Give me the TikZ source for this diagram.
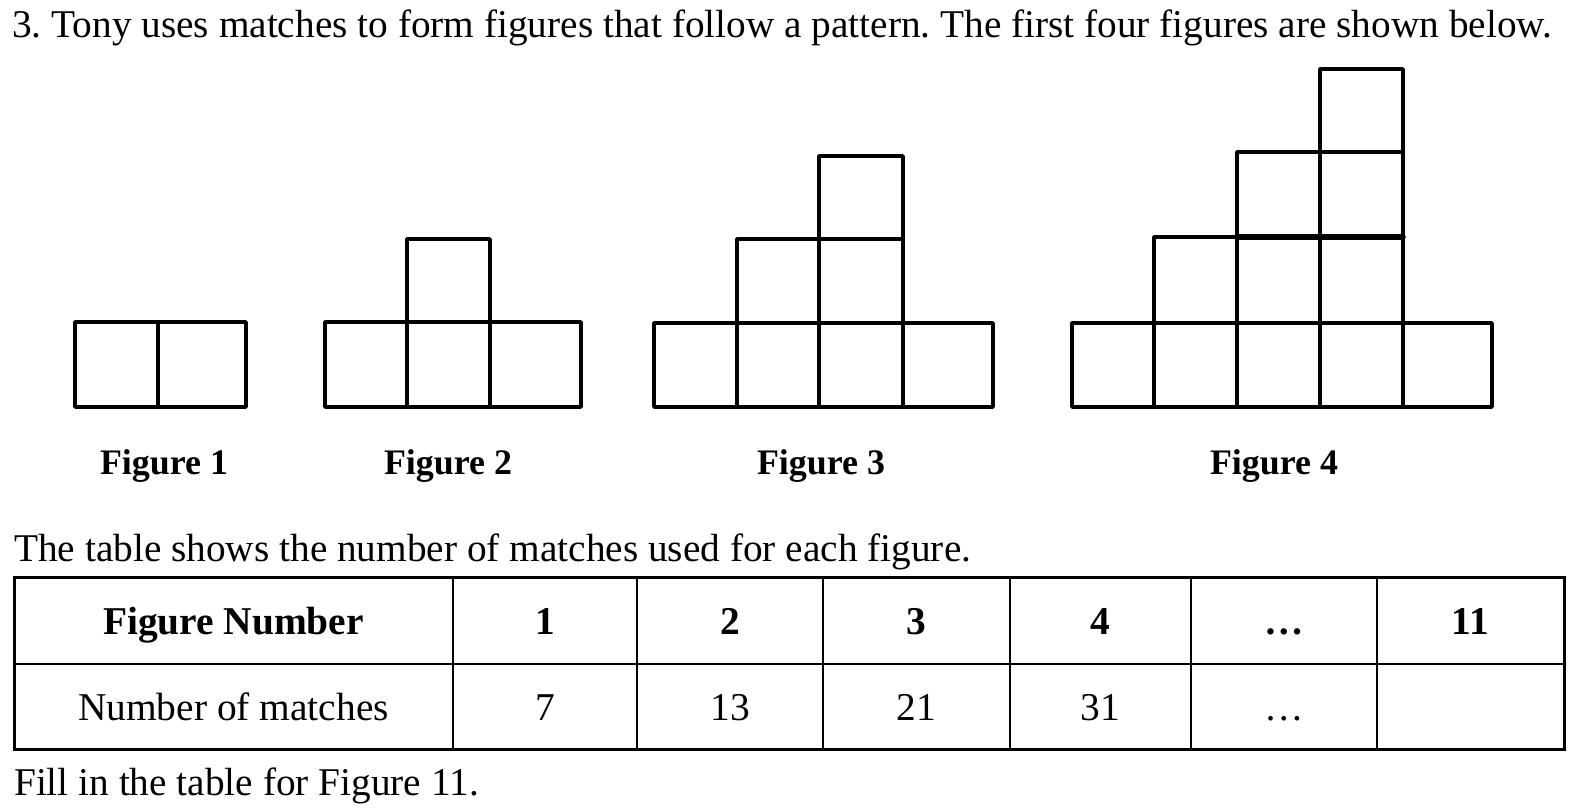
\documentclass[tikz,border=0pt]{standalone}
\usepackage{fontspec}
\setmainfont{Liberation Serif}
\frenchspacing
\begin{document}
\begin{tikzpicture}[x=1pt,y=-1pt,
  match/.style={line width=3.5pt,line join=round,line cap=round},
  thickmatch/.style={line width=5.5pt,line cap=round},
  body/.style={inner sep=0pt,font=\fontsize{39.3}{44}\selectfont},
  figlabel/.style={inner sep=0pt,anchor=base,font=\fontsize{35.9}{40}\selectfont\bfseries},
  cell/.style={inner sep=0pt,anchor=base,font=\fontsize{39.4}{44}\selectfont},
  bcell/.style={cell,font=\fontsize{39.4}{44}\selectfont\bfseries},
  tline/.style={line width=2pt},
  tout/.style={line width=3pt}]
\useasboundingbox (0,0) rectangle (1587,811);
\fill[white] (0,0) rectangle (1587,811);
% title
\node[body,anchor=base west] (title) at (12,37) {3. Tony uses matches to form figures that follow a pattern. The first four figures are shown below.};
% Figure 1
\draw[match] (75,322) rectangle (158,407);
\draw[match] (158,322) rectangle (246,407);
% Figure 2
\draw[match] (325,322) rectangle (407,407);
\draw[match] (407,322) rectangle (490,407);
\draw[match] (490,322) rectangle (581,407);
\draw[match] (407,239) rectangle (490,322);
% Figure 3
\draw[match] (654,323) rectangle (737,407);
\draw[match] (737,323) rectangle (819,407);
\draw[match] (819,323) rectangle (903,407);
\draw[match] (903,323) rectangle (993,407);
\draw[match] (737,239) rectangle (819,323);
\draw[match] (819,239) rectangle (903,323);
\draw[match] (819,156) rectangle (903,239);
% Figure 4
\draw[match] (1072,323) rectangle (1154,407);
\draw[match] (1154,323) rectangle (1237,407);
\draw[match] (1237,323) rectangle (1320,407);
\draw[match] (1320,323) rectangle (1403,407);
\draw[match] (1403,323) rectangle (1492,407);
\draw[match] (1154,237) rectangle (1237,323);
\draw[match] (1237,237) rectangle (1320,323);
\draw[match] (1320,237) rectangle (1403,323);
\draw[match] (1237,152) rectangle (1320,237);
\draw[match] (1320,152) rectangle (1403,237);
\draw[match] (1320,69) rectangle (1403,152);
\draw[thickmatch] (1237,237) -- (1403,237);
% labels
\node[figlabel] (f1) at (164,474) {Figure 1};
\node[figlabel] (f2) at (448,474) {Figure 2};
\node[figlabel] (f3) at (821,474) {Figure 3};
\node[figlabel] (f4) at (1274,474) {Figure 4};
% table intro
\node[body,anchor=base west] (intro) at (14,561) {The table shows the number of matches used for each figure.};
% table lines
\draw[tout] (14,577) rectangle (1564,749);
\draw[tline] (14,664) -- (1564,664);
\foreach \x in {453,637,823,1010,1191,1377} \draw[tline] (\x,577) -- (\x,749);
% row 1
\node[bcell] (h0) at (233.5,634) {Figure Number};
\node[bcell] (h1) at (545,634) {1};
\node[bcell] (h2) at (730,634) {2};
\node[bcell] (h3) at (916.5,634) {3};
\node[bcell] (h4) at (1100.5,634) {4};
\node[bcell] (h5) at (1284,634) {\dots};
\node[bcell] (h6) at (1470.5,634) {11};
% row 2
\node[cell] (r0) at (233.5,720) {Number of matches};
\node[cell] (r1) at (545,720) {7};
\node[cell] (r2) at (730,720) {13};
\node[cell] (r3) at (916.5,720) {21};
\node[cell] (r4) at (1100.5,720) {31};
\node[cell] (r5) at (1284,720) {\dots};
% footer
\node[body,anchor=base west] (fill) at (14,795) {Fill in the table for Figure 11.};
\end{tikzpicture}
\end{document}
